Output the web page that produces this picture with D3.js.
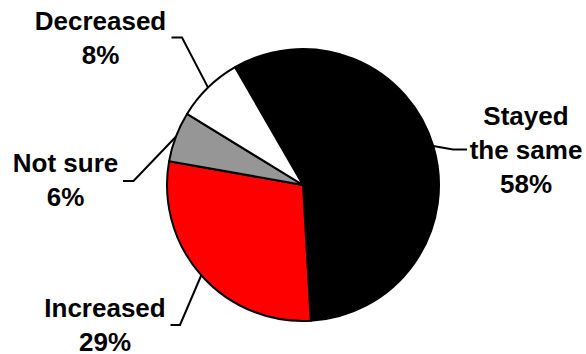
<!DOCTYPE html>
<html>
<head>
<meta charset="utf-8">
<script src="https://cdn.jsdelivr.net/npm/d3@7"></script>
<style>
  html, body { margin: 0; padding: 0; background: #fff; }
  svg { display: block; }
  text { font-family: "Liberation Sans", Arial, sans-serif; font-weight: bold; fill: #000; }
</style>
</head>
<body>
<svg id="chart" width="586" height="354"></svg>
<script>
// Survey answers, in drawing order (clockwise)
const categories = ["Stayed the same", "Increased", "Not sure", "Decreased"];
const values = [58, 29, 6, 8];
const labelLines = [["Stayed", "the same", "58%"], ["Increased", "29%"], ["Not sure", "6%"], ["Decreased", "8%"]];
const colors = ["#000000", "#ff0000", "#969696", "#ffffff"];

const W = 586, H = 354;
const cx = 303, cy = 185, R = 136;
const fontSize = 26, lineGap = 34.2;

// Label placement: elbow of the leader, end of its horizontal stub, text anchor
const layout = [
  { elbow: [453, 149.5], end: [467, 149.5], tx: 526, ty: 125 },
  { elbow: [180, 325], end: [170.5, 325], tx: 105, ty: 316.5 },
  { elbow: [133.5, 181], end: [123, 181], tx: 65.5, ty: 171.5 },
  { elbow: [182, 37.5], end: [171.5, 37.5], tx: 100.5, ty: 29.5 }
];

const svg = d3.select("#chart");
const g = svg.append("g").attr("transform", `translate(${cx},${cy})`);

const start = -30 * Math.PI / 180;
const pie = d3.pie().sort(null).value(d => d)
  .startAngle(start).endAngle(start + 2 * Math.PI);
const arcs = pie(values);
const arc = d3.arc().innerRadius(0).outerRadius(R);

g.selectAll("path.slice")
  .data(arcs)
  .join("path")
  .attr("class", "slice")
  .attr("d", arc)
  .attr("fill", (d, i) => colors[i])
  .attr("stroke", "#000")
  .attr("stroke-width", 2)
  .attr("stroke-linejoin", "round");

// Leader lines from each slice's mid-angle on the rim
arcs.forEach((a, i) => {
  const mid = (a.startAngle + a.endAngle) / 2;
  const px = cx + R * Math.sin(mid), py = cy - R * Math.cos(mid);
  const L = layout[i];
  svg.append("polyline")
    .attr("points", [[px, py], L.elbow, L.end].map(p => p.join(",")).join(" "))
    .attr("fill", "none")
    .attr("stroke", "#000")
    .attr("stroke-width", 2);

  const t = svg.append("text")
    .attr("text-anchor", "middle")
    .attr("font-size", fontSize);
  labelLines[i].forEach((line, k) => {
    t.append("tspan")
      .attr("x", L.tx)
      .attr("y", L.ty + k * lineGap)
      .text(line);
  });
});
</script>
</body>
</html>
